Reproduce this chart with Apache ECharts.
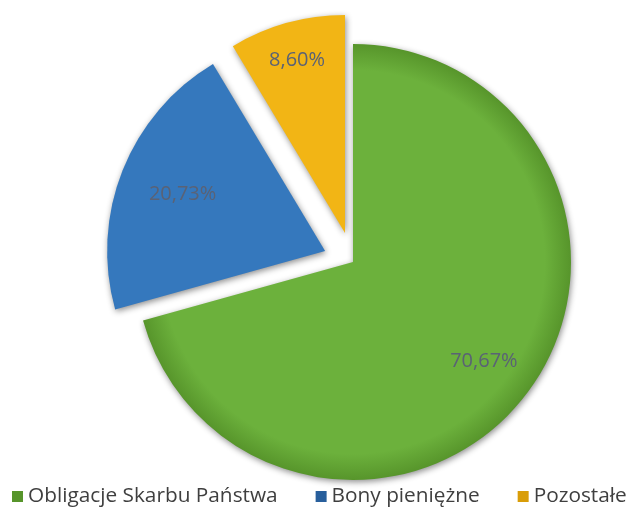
<!DOCTYPE html>
<html>
<head>
<meta charset="utf-8">
<script src="https://cdn.jsdelivr.net/npm/echarts@6/dist/echarts.min.js"></script>
<style>html,body{margin:0;padding:0;background:#fff;}#c{width:631px;height:515px;}</style>
</head>
<body>
<div id="c"></div>
<script>
const categories = ['Obligacje Skarbu Państwa', 'Bony pieniężne', 'Pozostałe'];
const values = [70.67, 20.73, 8.60];
const labels = ['70,67%', '20,73%', '8,60%'];
const exploded = [false, true, true];

const baseColors = ['#6cb13c', '#3578bd', '#f2b515'];
const darkColors = ['#57952b', '#285f9c', '#d99d08'];
const labelRadius = [0.74, 0.69, 0.81];

const R = 218, CX = 353, CY = 262, OFF = 30;

const chart = echarts.init(document.getElementById('c'), null, {renderer: 'canvas'});
const total = values.reduce((a, b) => a + b, 0);
const mids = [];
let acc = 0;
values.forEach(v => { mids.push((acc + v / 2) / total * 2 * Math.PI); acc += v; });

chart.setOption({
  animation: false,
  legend: {
    bottom: 8,
    left: 12,
    padding: 0,
    itemWidth: 11,
    itemHeight: 11,
    itemGap: 38,
    icon: 'rect',
    textStyle: {fontFamily: 'Open Sans', fontSize: 20.8, color: '#3f3f3f'},
    data: categories
  },
  series: [{
    type: 'pie',
    center: [CX, CY],
    radius: R,
    startAngle: 90,
    clockwise: true,
    selectedMode: 'multiple',
    selectedOffset: OFF,
    emphasis: {disabled: true},
    label: {
      show: true,
      position: 'inside',
      fontFamily: 'Open Sans',
      fontSize: 20,
      color: '#5a6275',
      formatter: p => labels[p.dataIndex]
    },
    labelLayout: function (p) {
      const i = p.dataIndex;
      const d = (labelRadius[i] - 0.5) * R;
      return {dx: Math.sin(mids[i]) * d, dy: -Math.cos(mids[i]) * d};
    },
    itemStyle: {
      shadowColor: 'rgba(0,0,0,0.45)',
      shadowBlur: 6,
      shadowOffsetX: 1,
      shadowOffsetY: 2
    },
    data: categories.map((name, i) => {
      const o = exploded[i] ? OFF : 0;
      const cx = CX + Math.sin(mids[i]) * o, cy = CY - Math.cos(mids[i]) * o;
      return {
        name: name,
        value: values[i],
        selected: exploded[i],
        itemStyle: {
          color: {
            type: 'radial', x: cx, y: cy, r: R, global: true,
            colorStops: [
              {offset: 0, color: baseColors[i]},
              {offset: 0.88, color: baseColors[i]},
              {offset: 1, color: darkColors[i]}
            ]
          }
        }
      };
    })
  }],
  color: baseColors
});
</script>
</body>
</html>
